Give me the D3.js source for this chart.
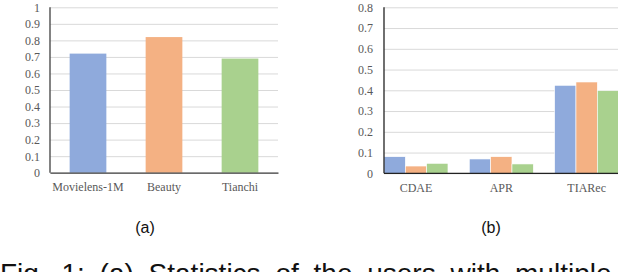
<!DOCTYPE html>
<html lang="en">
<head>
<meta charset="utf-8">
<script src="https://d3js.org/d3.v7.min.js"></script>
<style>
  body { margin: 0; background: #fff; }
  svg { display: block; }
</style>
</head>
<body>
<svg id="chart" width="618" height="272"></svg>
<script>
// chart (a)
const datasets = ["Movielens-1M", "Beauty", "Tianchi"];
const ratioA = [0.72, 0.82, 0.69];
const ticksA = [0, 0.1, 0.2, 0.3, 0.4, 0.5, 0.6, 0.7, 0.8, 0.9, 1];

// chart (b)
const models = ["CDAE", "APR", "TIARec"];
const movielensB = [0.08, 0.069, 0.424];
const beautyB = [0.035, 0.08, 0.44];
const tianchiB = [0.048, 0.045, 0.398];
const ticksB = [0, 0.1, 0.2, 0.3, 0.4, 0.5, 0.6, 0.7, 0.8];

const colors = ["#8FAADC", "#F4B183", "#A9D18E"];
const seriesB = [movielensB, beautyB, tianchiB];

const svg = d3.select("#chart");
const labelFont = "Liberation Serif, DejaVu Serif, serif";

function styleAxis(g) {
  g.attr("font-family", labelFont).attr("font-size", 12);
  g.selectAll(".tick text").attr("fill", "#595959");
}

// ---------- (a)
const xA = d3.scaleBand().domain(datasets).range([50, 278]).paddingInner(0.517).paddingOuter(0.2585);
const yA = d3.scaleLinear().domain([0, 1]).range([172.7, 7.3]);

svg.append("g")
  .attr("transform", "translate(50,0)")
  .call(d3.axisLeft(yA).tickValues(ticksA).tickFormat(d3.format("")).tickSize(-228).tickPadding(10))
  .call(styleAxis)
  .call(g => {
    g.select(".domain").remove();
    g.selectAll(".tick line").attr("stroke", "#d9d9d9");
  });

svg.append("g").selectAll("rect")
  .data(datasets)
  .join("rect")
  .attr("x", d => xA(d))
  .attr("width", xA.bandwidth())
  .attr("y", (d, i) => yA(ratioA[i]))
  .attr("height", (d, i) => yA(0) - yA(ratioA[i]))
  .attr("fill", (d, i) => colors[i]);

svg.append("g")
  .attr("transform", `translate(0,${yA(0)})`)
  .call(d3.axisBottom(xA).tickSize(0).tickPadding(10))
  .call(styleAxis)
  .call(g => g.select(".domain").attr("stroke", "#404040").attr("stroke-width", 1.3));

svg.append("line")
  .attr("x1", 50).attr("x2", 50)
  .attr("y1", yA(1)).attr("y2", yA(0))
  .attr("stroke", "#404040").attr("stroke-width", 1.3);

// ---------- (b)
const x0 = d3.scaleBand().domain(models).range([373.3, 629.3]).paddingInner(0.25).paddingOuter(0.125);
const x1 = d3.scaleBand().domain(datasets).range([0, x0.bandwidth()]);
const yB = d3.scaleLinear().domain([0, 0.8]).range([173.3, 7.3]);

svg.append("g")
  .attr("transform", "translate(384,0)")
  .call(d3.axisLeft(yB).tickValues(ticksB).tickFormat(d3.format("")).tickSize(-240).tickPadding(11))
  .call(styleAxis)
  .call(g => {
    g.select(".domain").remove();
    g.selectAll(".tick line").attr("stroke", "#d9d9d9");
  });

const groups = svg.append("g").selectAll("g")
  .data(models)
  .join("g")
  .attr("transform", d => `translate(${x0(d)},0)`);

groups.selectAll("rect")
  .data((d, mi) => datasets.map((s, si) => ({ s, si, v: seriesB[si][mi] })))
  .join("rect")
  .attr("x", d => x1(d.s))
  .attr("width", x1.bandwidth())
  .attr("y", d => yB(d.v))
  .attr("height", d => yB(0) - yB(d.v))
  .attr("fill", d => colors[d.si])
  .attr("stroke", "#fff")
  .attr("stroke-width", 0.6);

svg.append("g")
  .attr("transform", `translate(0,${yB(0)})`)
  .call(d3.axisBottom(x0).tickSize(0).tickPadding(10))
  .call(styleAxis)
  .call(g => g.select(".domain").remove());

svg.append("line")
  .attr("x1", 384).attr("x2", 618)
  .attr("y1", yB(0)).attr("y2", yB(0))
  .attr("stroke", "#222").attr("stroke-width", 1.3);
svg.append("line")
  .attr("x1", 384).attr("x2", 384)
  .attr("y1", yB(0.8)).attr("y2", yB(0))
  .attr("stroke", "#222").attr("stroke-width", 1.3);

// captions
const capFont = "Liberation Sans, Arial, sans-serif";
svg.append("text").attr("x", 145).attr("y", 233).attr("text-anchor", "middle")
  .attr("font-family", capFont).attr("font-size", 16).attr("fill", "#111").text("(a)");
svg.append("text").attr("x", 491).attr("y", 233).attr("text-anchor", "middle")
  .attr("font-family", capFont).attr("font-size", 16).attr("fill", "#111").text("(b)");
svg.append("text").attr("x", 0).attr("y", 283)
  .attr("font-family", capFont).attr("font-size", 28).attr("word-spacing", 7).attr("fill", "#111")
  .text("Fig. 1: (a) Statistics of the users with multiple interests.");
</script>
</body>
</html>
